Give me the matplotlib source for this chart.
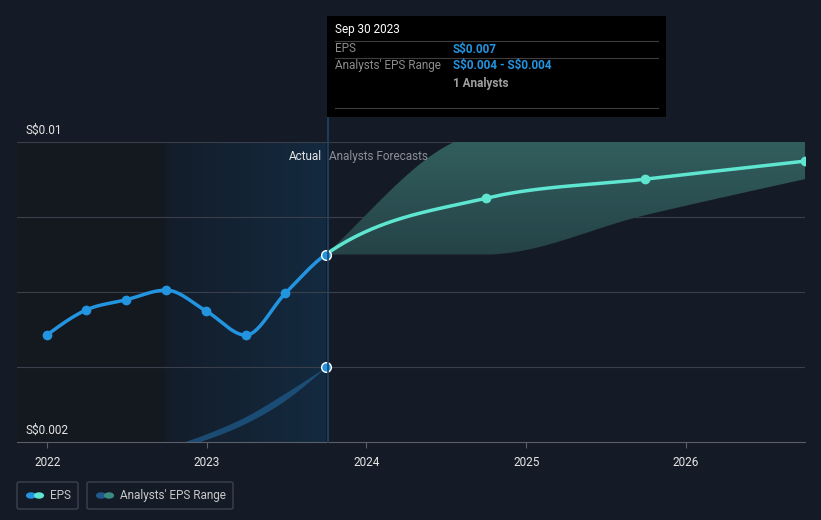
import datetime as dt
import numpy as np
import matplotlib.pyplot as plt
import matplotlib.dates as mdates
from matplotlib.colors import LinearSegmentedColormap
from matplotlib.patches import FancyBboxPatch, Rectangle, Circle
from matplotlib.lines import Line2D

plt.rcParams['font.family'] = ['Roboto', 'DejaVu Sans']

# actual EPS (quarterly)
past_dates = ["2021-12-31", "2022-03-31", "2022-06-30", "2022-09-30",
              "2022-12-31", "2023-03-31", "2023-06-30", "2023-09-30"]
past_eps = [0.00485, 0.00552, 0.00579, 0.00605, 0.00549, 0.00485, 0.00597, 0.0070]

# past analyst range (drops below the axis)
past_rng_dates = ["2022-09-30", "2022-12-31", "2023-03-31", "2023-06-30", "2023-09-30"]
past_rng_low = [0.00175, 0.00207, 0.00250, 0.00312, 0.0040]
past_rng_high = [0.00185, 0.00222, 0.00268, 0.00331, 0.0040]

# forecasts
fc_dates = ["2023-09-30", "2024-09-30", "2025-09-30", "2026-09-30"]
fc_eps = [0.0070, 0.00850, 0.00901, 0.00949]
fc_low = [0.0070, 0.0070, 0.00805, 0.00901]
fc_high = [0.0070, 0.0102, 0.0102, 0.0102]

BG = "#151b26"
BLUE = "#2394df"
TEAL = "#5ee6d0"


def todate(lst):
    return np.array([mdates.date2num(dt.date.fromisoformat(s)) for s in lst])


def smooth(x, y, n=400):
    # monotone-x cubic (d3 style) just for drawing the curve
    x = np.asarray(x, float)
    y = np.asarray(y, float)
    h = np.diff(x)
    d = np.diff(y) / h
    m = np.zeros_like(y)
    for i in range(1, len(y) - 1):
        p = (d[i - 1] * h[i] + d[i] * h[i - 1]) / (h[i - 1] + h[i])
        m[i] = (np.sign(d[i - 1]) + np.sign(d[i])) * min(abs(d[i - 1]), abs(d[i]), 0.5 * abs(p))
    m[0] = (3 * d[0] - m[1]) / 2 if len(y) > 2 else d[0]
    m[-1] = (3 * d[-1] - m[-2]) / 2 if len(y) > 2 else d[-1]
    xs = np.linspace(x[0], x[-1], n)
    idx = np.clip(np.searchsorted(x, xs) - 1, 0, len(x) - 2)
    t = (xs - x[idx]) / h[idx]
    h00 = 2 * t**3 - 3 * t**2 + 1
    h10 = t**3 - 2 * t**2 + t
    h01 = -2 * t**3 + 3 * t**2
    h11 = t**3 - t**2
    ys = h00 * y[idx] + h10 * h[idx] * m[idx] + h01 * y[idx + 1] + h11 * h[idx] * m[idx + 1]
    return xs, ys


W, H = 821, 520
fig = plt.figure(figsize=(8.21, 5.20), dpi=100, facecolor=BG)
ax = fig.add_axes([17 / W, 78 / H, 788 / W, 300 / H])
ax.set_facecolor(BG)

x0 = mdates.date2num(dt.date(2021, 10, 24))
x1 = mdates.date2num(dt.date(2026, 9, 30))

xp = todate(past_dates)
xr = todate(past_rng_dates)
xf = todate(fc_dates)
split_a = mdates.date2num(dt.date(2022, 9, 30))
split_b = xp[-1]

# shaded background regions
ax.axvspan(x0, split_a, color="#14181f", lw=0, zorder=0)
grad = np.linspace(0, 1, 256).reshape(1, -1)
ax.imshow(grad, extent=[split_a, split_b, 0.002, 0.010], aspect='auto', zorder=0,
          interpolation='bilinear',
          cmap=LinearSegmentedColormap.from_list("b", ["#141d2a", "#132a40"]))

for v in [0.004, 0.006, 0.008, 0.010]:
    ax.axhline(v, color="#3a404b", lw=0.8, zorder=1)

# past range
sx, slo = smooth(xr, past_rng_low)
_, shi = smooth(xr, past_rng_high)
ax.fill_between(sx, slo, shi, color="#1f5a8a", alpha=0.75, lw=0, zorder=2)

# whole EPS series drawn as one curve, coloured by actual / forecast
all_x = np.concatenate([xp, xf[1:]])
all_eps = past_eps + fc_eps[1:]
cx, cy = smooth(all_x, all_eps, n=1500)

# forecast range (upper edge uses last actual quarter for its starting slope)
ctx_x = np.concatenate([[xp[-2]], xf])
hx, hy = smooth(ctx_x, [past_eps[-2]] + fc_high, n=800)
keep = hx >= xf[0]
fx, fhi = hx[keep], hy[keep]
flo = np.interp(fx, *smooth(xf, fc_low, n=800))
poly = ax.fill_between(fx, flo, fhi, color="none", lw=0, zorder=2)
gimg = ax.imshow(np.linspace(1, 0, 256).reshape(-1, 1), extent=[xf[0], xf[-1], 0.006, 0.010],
                 aspect='auto', zorder=2, interpolation='bilinear',
                 cmap=LinearSegmentedColormap.from_list("c", ["#213a40", "#325e5e"]))
gimg.set_clip_path(poly.get_paths()[0], transform=ax.transData)

past_mask = cx <= split_b
ax.plot(cx[past_mask], cy[past_mask], color=BLUE, lw=2.5, zorder=4, solid_capstyle='round')
ax.plot(cx[~past_mask], cy[~past_mask], color=TEAL, lw=2.5, zorder=4, solid_capstyle='round')
ax.plot(xp[:-1], past_eps[:-1], 'o', color=BLUE, ms=6, zorder=5)
ax.plot(xf[1:], fc_eps[1:], 'o', color=TEAL, ms=6, zorder=5)
ax.plot(xp[-1], past_eps[-1], 'o', color=BLUE, ms=7, mec="white", mew=1, zorder=6)
ax.plot(xr[-1], past_rng_low[-1], 'o', color=BLUE, ms=7, mec="white", mew=1, zorder=6)

ax.set_xlim(x0, x1)
ax.set_ylim(0.002, 0.010)

ax.text(split_b - 8, 0.00962, "Actual", color="#e6e6e6", fontsize=8.5, ha='right', va='center', zorder=7)
ax.text(split_b + 8, 0.00962, "Analysts Forecasts", color="#8a8f98", fontsize=8.5, ha='left', va='center', zorder=7)

for s in ['top', 'right', 'left']:
    ax.spines[s].set_visible(False)
ax.spines['bottom'].set_color("#5a5f68")
ax.set_yticks([])
ax.xaxis.set_major_locator(mdates.YearLocator())
ax.xaxis.set_major_formatter(mdates.DateFormatter("%Y"))
ax.tick_params(axis='x', colors="#5a5f68", labelcolor="#e6e6e6", labelsize=8.5, length=4, pad=6)

fig.text(25 / W, 1 - 130 / H, "S\\$0.01", color="#e6e6e6", fontsize=8.5, va='center')
fig.text(25 / W, 1 - 430 / H, "S\\$0.002", color="#e6e6e6", fontsize=8.5, va='center')

# vertical marker line
fig.add_artist(Line2D([327.5 / W, 327.5 / W], [1 - 117 / H, 1 - 442 / H],
                      color="#1d4566", lw=1.2, zorder=3))

# tooltip
fig.add_artist(Rectangle((327 / W, 1 - 117 / H), 339 / W, 101 / H, facecolor="#000000",
                         edgecolor="none", zorder=8))
for yy in [41, 58, 108]:
    fig.add_artist(Line2D([335 / W, 658 / W], [1 - yy / H] * 2, color="#3d3d3d", lw=0.8, zorder=9))
fig.text(335 / W, 1 - 30 / H, "Sep 30 2023", color="white", fontsize=8.5, va='center', zorder=10)
fig.text(335 / W, 1 - 49 / H, "EPS", color="#8c8c8c", fontsize=8.5, va='center', zorder=10)
fig.text(453 / W, 1 - 49 / H, "S\\$0.007", color=BLUE, fontsize=8.5, fontweight='bold', va='center', zorder=10)
fig.text(335 / W, 1 - 66 / H, "Analysts' EPS Range", color="#8c8c8c", fontsize=8.5, va='center', zorder=10)
fig.text(453 / W, 1 - 66 / H, "S\\$0.004 - S\\$0.004", color=BLUE, fontsize=8.5, fontweight='bold',
         va='center', zorder=10)
fig.text(453 / W, 1 - 83 / H, "1 Analysts", color="#a0a0a0", fontsize=8.5, fontweight='bold', va='center', zorder=10)


# legend
def legbox(x, w, c1, c2, label):
    fig.add_artist(FancyBboxPatch((x / W, 1 - 509 / H), w / W, 27 / H,
                                  boxstyle="round,pad=0,rounding_size=0.003",
                                  facecolor="none", edgecolor="#3d434e", lw=1))
    fig.add_artist(Circle(((x + 14) / W, 1 - 495.5 / H), 0.0062, transform=fig.transFigure,
                          facecolor=c1, edgecolor="none", zorder=3))
    fig.add_artist(Circle(((x + 22) / W, 1 - 495.5 / H), 0.0062, transform=fig.transFigure,
                          facecolor=c2, edgecolor="none", zorder=4))
    fig.text((x + 33) / W, 1 - 495.5 / H, label, color="#c8c8c8", fontsize=8.5, va='center')


legbox(17, 61, BLUE, TEAL, "EPS")
legbox(87, 146, "#1f5a8a", "#3a8a80", "Analysts' EPS Range")

fig.savefig("out.png", dpi=100, facecolor=BG)
